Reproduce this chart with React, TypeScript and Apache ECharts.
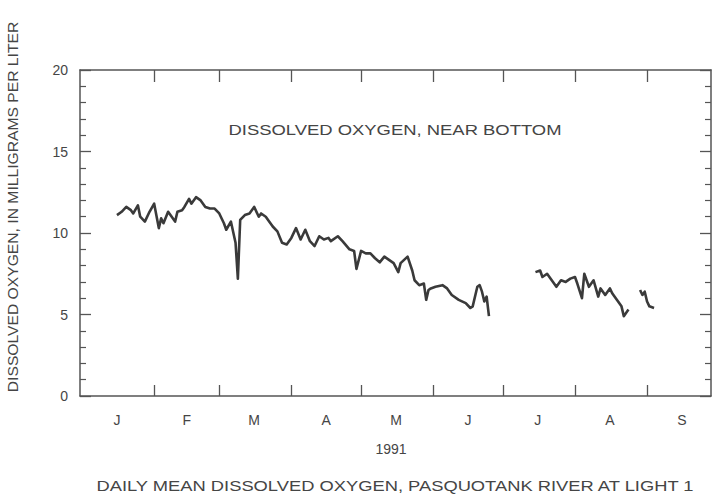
import React, { useEffect, useRef } from "react";
import * as echarts from "echarts";

// Day of year 1991 (Jan 1 = 0) and daily mean dissolved oxygen (mg/L)
const seg1Days = [15, 17, 19, 21, 22, 24, 25, 27, 29, 31, 33, 34, 35, 37, 38, 40, 41, 43, 44, 46, 47, 49, 51, 53, 55, 57, 59, 61, 62, 64, 66, 67, 68, 70, 72, 74, 76, 77, 79, 82, 84, 86, 88, 90, 92, 94, 96, 98, 100, 102, 104, 106, 107, 110, 112, 115, 117, 118, 120, 122, 124, 126, 128, 130, 132, 134, 136, 137, 140, 142, 143, 145, 147, 148, 149, 150, 152, 155, 157, 159, 162, 165, 167, 168, 170, 171, 172, 173, 174, 175];
const seg1Values = [11.1, 11.3, 11.6, 11.4, 11.2, 11.7, 11.0, 10.7, 11.3, 11.8, 10.3, 10.9, 10.6, 11.3, 11.1, 10.7, 11.3, 11.4, 11.6, 12.1, 11.8, 12.2, 12.0, 11.6, 11.5, 11.5, 11.2, 10.6, 10.2, 10.7, 9.4, 7.2, 10.8, 11.1, 11.2, 11.6, 11.0, 11.2, 11.0, 10.4, 10.1, 9.4, 9.3, 9.7, 10.3, 9.6, 10.2, 9.5, 9.2, 9.8, 9.6, 9.7, 9.5, 9.8, 9.5, 9.0, 8.9, 7.8, 8.9, 8.75, 8.75, 8.45, 8.2, 8.55, 8.35, 8.15, 7.6, 8.15, 8.55, 7.7, 7.1, 6.8, 6.9, 5.9, 6.5, 6.6, 6.7, 6.8, 6.6, 6.2, 5.9, 5.7, 5.4, 5.5, 6.7, 6.8, 6.4, 5.8, 6.1, 4.9];
const seg2Days = [195, 197, 198, 200, 202, 204, 206, 208, 210, 212, 213, 215, 216, 218, 220, 222, 223, 225, 227, 228, 230, 231, 232, 233, 235];
const seg2Values = [7.6, 7.7, 7.3, 7.5, 7.1, 6.7, 7.1, 7.0, 7.2, 7.3, 6.9, 6.0, 7.5, 6.7, 7.1, 6.1, 6.6, 6.2, 6.6, 6.3, 5.9, 5.7, 5.5, 4.9, 5.3];
const seg3Days = [240, 241, 242, 243, 244, 246];
const seg3Values = [6.5, 6.2, 6.4, 5.8, 5.5, 5.4];

const monthStartDays = [31, 59, 90, 120, 151, 181, 212, 243];
const monthLabelDays = [15, 45, 74, 105, 135, 166, 196, 227, 258];
const monthLetters = ["J", "F", "M", "A", "M", "J", "J", "A", "S"];
const yTicks = [0, 5, 10, 15, 20];

const FONT = '"Liberation Sans", Arial, Helvetica, sans-serif';
const TEXT = "#454545";
const AXIS = "#555555";
const LINE = "#3a3a3a";

function pairs(d: number[], v: number[]) {
  return d.map((x, i) => [x, v[i]]);
}

export default function App() {
  const ref = useRef<HTMLDivElement>(null);
  useEffect(() => {
    if (!ref.current) return;
    const chart = echarts.init(ref.current, undefined, { renderer: "svg" });
    const xBase = {
      type: "value" as const,
      min: -0.9,
      max: 270.5,
      splitLine: { show: false },
      axisLine: { show: true, onZero: false, lineStyle: { color: AXIS, width: 1.5 } },
    };
    const yBase = {
      type: "value" as const,
      min: 0,
      max: 20,
      interval: 5,
      splitLine: { show: false },
      axisLine: { show: true, onZero: false, lineStyle: { color: AXIS, width: 1.5 } },
      axisTick: { show: true, inside: true, length: 11, lineStyle: { color: AXIS, width: 1.3 } },
      minorTick: { show: true, splitNumber: 5, length: 6, lineStyle: { color: AXIS, width: 1.2 } },
    };
    const lineSeries = (data: number[][]) => ({
      type: "line",
      xAxisIndex: 0,
      yAxisIndex: 0,
      data,
      symbol: "none",
      lineStyle: { color: LINE, width: 2.6, join: "round" },
      silent: true,
    });
    chart.setOption({
      animation: false,
      grid: { left: 80, right: 1, top: 70, bottom: 99, containLabel: false },
      xAxis: [
        {
          ...xBase,
          position: "bottom",
          axisTick: { show: true, inside: true, length: 11, customValues: monthStartDays, lineStyle: { color: AXIS, width: 1.3 } },
          axisLabel: {
            show: true,
            customValues: monthLabelDays,
            margin: 17,
            color: TEXT,
            fontFamily: FONT,
            fontSize: 14,
            formatter: (v: number) => {
              const i = monthLabelDays.indexOf(Math.round(v));
              return i >= 0 ? monthLetters[i] : "";
            },
          },
        },
        {
          ...xBase,
          position: "top",
          axisTick: { show: true, inside: true, length: 12, customValues: monthStartDays, lineStyle: { color: AXIS, width: 1.3 } },
          axisLabel: { show: false },
        },
      ],
      yAxis: [
        {
          ...yBase,
          position: "left",
          axisLabel: {
            show: true,
            margin: 12,
            color: TEXT,
            fontFamily: FONT,
            fontSize: 14,
            customValues: yTicks,
          },
        },
        {
          ...yBase,
          position: "right",
          axisLabel: { show: false },
        },
      ],
      series: [
        lineSeries(pairs(seg1Days, seg1Values)),
        lineSeries(pairs(seg2Days, seg2Values)),
        lineSeries(pairs(seg3Days, seg3Values)),
      ],
      graphic: [
        {
          type: "text",
          x: 13,
          y: 207,
          rotation: Math.PI / 2,
          scaleX: 1.045,
          style: {
            text: "DISSOLVED OXYGEN, IN MILLIGRAMS PER LITER",
            fill: TEXT,
            font: `15px ${FONT}`,
            textAlign: "center",
            textVerticalAlign: "middle",
          },
        },
        {
          type: "text",
          x: 395,
          y: 130,
          scaleX: 1.19,
          style: {
            text: "DISSOLVED OXYGEN, NEAR BOTTOM",
            fill: TEXT,
            font: `15.5px ${FONT}`,
            textAlign: "center",
            textVerticalAlign: "middle",
          },
        },
        {
          type: "text",
          x: 391,
          y: 449,
          style: {
            text: "1991",
            fill: TEXT,
            font: `14px ${FONT}`,
            textAlign: "center",
            textVerticalAlign: "middle",
          },
        },
        {
          type: "text",
          x: 395,
          y: 486,
          scaleX: 1.183,
          style: {
            text: "DAILY MEAN DISSOLVED OXYGEN, PASQUOTANK RIVER AT LIGHT 1",
            fill: TEXT,
            font: `15.5px ${FONT}`,
            textAlign: "center",
            textVerticalAlign: "middle",
          },
        },
      ],
    });
    return () => chart.dispose();
  }, []);
  return (
    <div
      ref={ref}
      style={{ position: "fixed", left: 0, top: 0, width: 712, height: 495, background: "#fff" }}
    />
  );
}
